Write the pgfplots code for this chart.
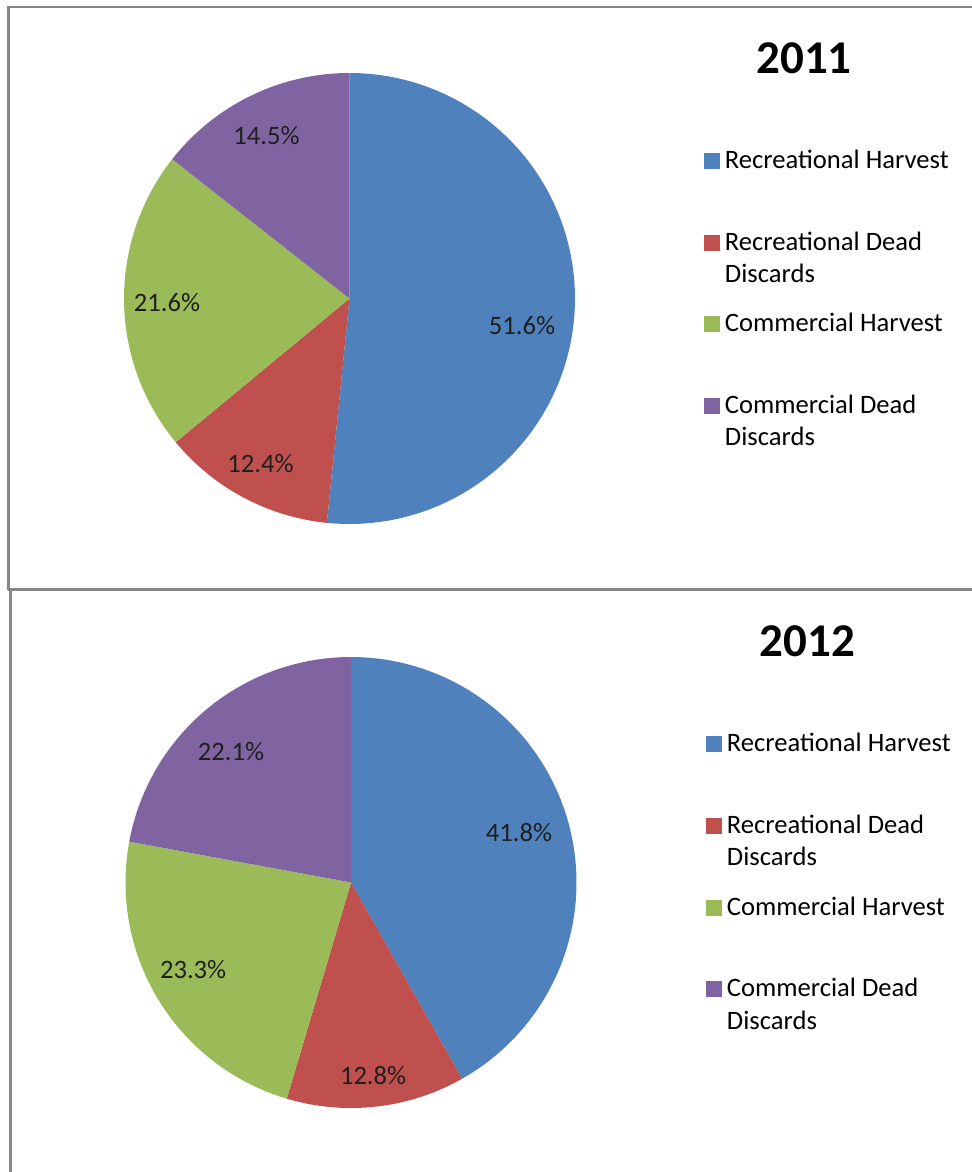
\documentclass[border=0pt]{standalone}
\usepackage{fontspec}
\setmainfont{Carlito}
\usepackage{pgfplots}
\pgfplotsset{compat=1.18}
\definecolor{cBlue}{HTML}{4F81BD}
\definecolor{cRed}{HTML}{C0504D}
\definecolor{cGreen}{HTML}{9BBB59}
\definecolor{cPurple}{HTML}{8064A2}
\definecolor{frameGray}{HTML}{868686}
\newcommand{\lfont}{\fontsize{13.3}{16.2}\selectfont}
% shares (percent)
\def\aA{51.6}\def\bA{12.4}\def\cA{21.6}\def\dA{14.5}
\def\aB{41.8}\def\bB{12.8}\def\cB{23.3}\def\dB{22.1}
\tikzset{plab/.style={font=\lfont, text=black!88, inner sep=0pt}}
\pgfplotsset{
  pieaxis/.style={
    x=112.75pt, y=112.75pt,
    xmin=-1, xmax=1, ymin=-1, ymax=1,
    hide axis, clip=false, anchor=origin,
    every axis title shift=0pt,
    title style={anchor=base, yshift=0pt, font=\fontsize{23.5}{28}\selectfont\bfseries, inner sep=0pt},
    legend cell align=left,
    legend image code/.code={\fill[##1] (0pt,-0.3pt) rectangle (8pt,7.7pt); \path (10.5pt,0pt);},
    legend style={draw=none, fill=none, inner sep=0pt, outer sep=0pt,
      row sep=0pt, column sep=0pt, anchor=north west, font=\lfont,
      cells={anchor=base west},
      nodes={inner sep=0pt, text height=10pt, text depth=30.85pt}},
    legend entries={Recreational Harvest,
      \parbox[t]{150pt}{Recreational Dead\\Discards},
      Commercial Harvest,
      \parbox[t]{150pt}{Commercial Dead\\Discards}},
  },
  slice/.style={fill=#1, draw=none, samples=120, variable=\t, no markers},
}
\begin{document}
\begin{tikzpicture}[x=0.5pt,y=-0.5pt]
\useasboundingbox (0,0) rectangle (972,1172);
% panel frames
\draw[frameGray, line width=1.25pt] (8.5,590) -- (8.5,7) -- (972,7);
\draw[frameGray, line width=1.25pt] (7.5,589.5) -- (972,589.5);
\draw[frameGray, line width=1.25pt] (10.5,589.5) -- (10.5,1172);

% ---------- 2011 ----------
\begin{axis}[pieaxis, at={(174.75pt,-149.25pt)},
  title={2011}, title style={at={(1.508,0.9993)}},
  legend style={at={(1.286,0.833)}}]
\addplot[slice=cBlue,   domain={90-3.6*\aA}:90] ({cos(\t)},{sin(\t)}) -- (0,0) -- cycle;
\addplot[slice=cRed,    domain={90-3.6*(\aA+\bA)}:{90-3.6*\aA}] ({cos(\t)},{sin(\t)}) -- (0,0) -- cycle;
\addplot[slice=cGreen,  domain={90-3.6*(\aA+\bA+\cA)}:{90-3.6*(\aA+\bA)}] ({cos(\t)},{sin(\t)}) -- (0,0) -- cycle;
\addplot[slice=cPurple, domain={-270}:{90-3.6*(\aA+\bA+\cA)}] ({cos(\t)},{sin(\t)}) -- (0,0) -- cycle;
\node[plab] at (axis cs:0.765,-0.122) {51.6\%};
\node[plab] at (axis cs:-0.395,-0.730) {12.4\%};
\node[plab] at (axis cs:-0.809,-0.020) {21.6\%};
\node[plab] at (axis cs:-0.368,0.722) {14.5\%};
\end{axis}

% ---------- 2012 ----------
\begin{axis}[pieaxis, at={(175.5pt,-441.25pt)},
  title={2012}, title style={at={(1.512,1.0007)}},
  legend style={at={(1.2871,0.8344)}}]
\addplot[slice=cBlue,   domain={90-3.6*\aB}:90] ({cos(\t)},{sin(\t)}) -- (0,0) -- cycle;
\addplot[slice=cRed,    domain={90-3.6*(\aB+\bB)}:{90-3.6*\aB}] ({cos(\t)},{sin(\t)}) -- (0,0) -- cycle;
\addplot[slice=cGreen,  domain={90-3.6*(\aB+\bB+\cB)}:{90-3.6*(\aB+\bB)}] ({cos(\t)},{sin(\t)}) -- (0,0) -- cycle;
\addplot[slice=cPurple, domain={-270}:{90-3.6*(\aB+\bB+\cB)}] ({cos(\t)},{sin(\t)}) -- (0,0) -- cycle;
\node[plab] at (axis cs:0.745,0.220) {41.8\%};
\node[plab] at (axis cs:0.098,-0.858) {12.8\%};
\node[plab] at (axis cs:-0.700,-0.384) {23.3\%};
\node[plab] at (axis cs:-0.532,0.579) {22.1\%};
\end{axis}
\end{tikzpicture}
\end{document}
